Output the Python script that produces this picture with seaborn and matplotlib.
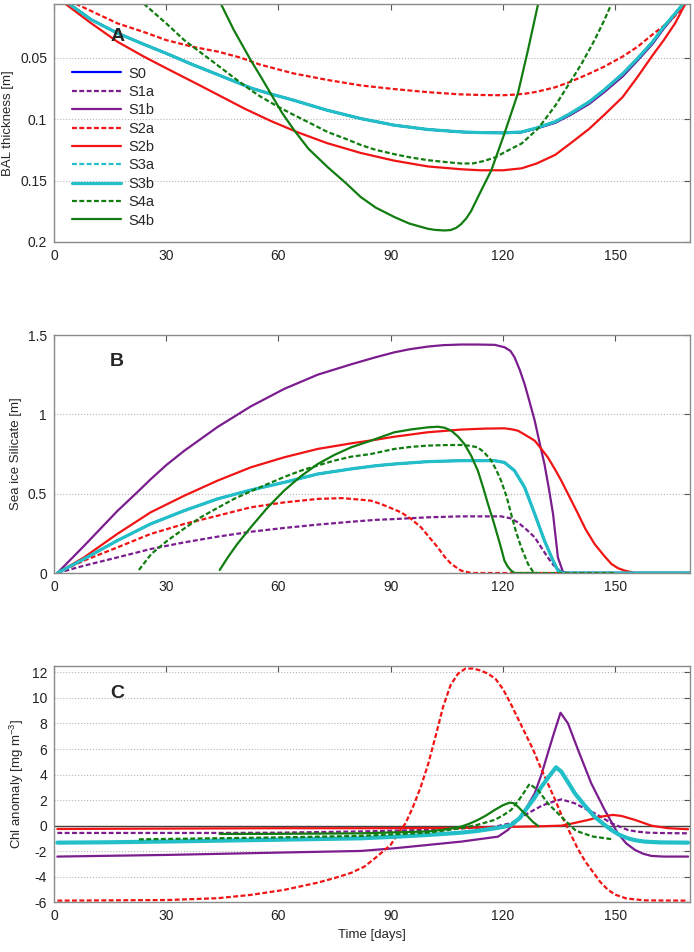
import matplotlib
matplotlib.use("Agg")
import matplotlib.pyplot as plt
import seaborn as sns

# ---- panel A: BAL thickness [m] ----
a_s0_day = [4, 10, 17, 24, 30, 37, 44, 53, 58, 64, 73, 82, 91, 100, 109, 114, 120, 125, 129, 134, 138, 143, 147, 152, 156, 160, 163, 166, 168.2]
a_s0_val = [0.006, 0.019, 0.030, 0.039, 0.0464, 0.0555, 0.064, 0.075, 0.0795, 0.0845, 0.0927, 0.0995, 0.1049, 0.1084, 0.1104, 0.1109,
            0.1112, 0.1106, 0.1075, 0.1028, 0.0965, 0.0875, 0.078, 0.065, 0.052, 0.0385, 0.026, 0.015, 0.006]
a_s3_val = [0.006, 0.019, 0.030, 0.039, 0.0464, 0.0555, 0.064, 0.075, 0.0795, 0.0845, 0.0927, 0.0995, 0.1049, 0.1084, 0.1104, 0.1109,
            0.1112, 0.1104, 0.1071, 0.102, 0.0954, 0.086, 0.0763, 0.063, 0.0505, 0.037, 0.0247, 0.014, 0.006]
a_s2a_day = [5.8, 10, 17, 24, 30, 37, 44, 50, 55, 64, 73, 82, 91, 100, 108, 114, 120, 123, 126, 129, 134, 138, 143, 147, 152, 156, 160, 165, 169]
a_s2a_val = [0.006, 0.012, 0.022, 0.029, 0.0356, 0.041, 0.0451, 0.050, 0.0555, 0.0627, 0.068, 0.0725, 0.0755, 0.078, 0.0797, 0.0803,
             0.0805, 0.080, 0.0792, 0.0777, 0.074, 0.0696, 0.063, 0.0573, 0.049, 0.041, 0.031, 0.0193, 0.0056]
a_s2b_day = [3, 10, 17, 24, 30, 39, 45, 51, 58, 65, 73, 82, 91, 100, 109, 114, 120, 125, 129, 134, 138, 143, 147, 152, 156, 160, 163, 166, 168.6]
a_s2b_val = [0.006, 0.022, 0.037, 0.049, 0.0585, 0.0725, 0.082, 0.0915, 0.1015, 0.1105, 0.1195, 0.1275, 0.1338, 0.1385, 0.1408, 0.1416,
             0.1416, 0.140, 0.1361, 0.129, 0.1198, 0.108, 0.0967, 0.082, 0.0655, 0.048, 0.0356, 0.022, 0.007]
a_s4a_day = [24, 30, 34.8, 40, 43.7, 48, 52.6, 55.3, 60, 64.2, 69, 73.1, 78, 82, 86, 91, 95, 100, 105, 109, 112, 115, 118, 121, 125,
             129.4, 134, 138.3, 141, 144.5, 147, 149]
a_s4a_val = [0.006, 0.022, 0.0356, 0.0475, 0.056, 0.066, 0.0763, 0.0818, 0.090, 0.0967, 0.104, 0.1104, 0.116, 0.121, 0.125, 0.1285,
             0.131, 0.1334, 0.135, 0.1361, 0.136, 0.134, 0.131, 0.126, 0.1198, 0.1076, 0.089, 0.0682, 0.055, 0.0356, 0.020, 0.0062]
a_s4b_day = [44.6, 48, 52.6, 55.3, 58, 61, 64.2, 68, 73.1, 78, 82, 86, 91, 95, 99.9, 102, 104.4, 106, 107.5, 108.8, 110.2, 111.5,
             114.2, 116.9, 120.4, 124, 126.7, 129.4]
a_s4b_val = [0.006, 0.027, 0.052, 0.0655, 0.0795, 0.095, 0.109, 0.124, 0.1389, 0.152, 0.1634, 0.172, 0.1797, 0.185, 0.1892, 0.1902,
             0.1906, 0.1903, 0.1885, 0.1855, 0.1808, 0.1748, 0.158, 0.1416, 0.1117, 0.079, 0.0437, 0.0062]

# ---- panel B: sea ice silicate ----
b_s1a_day = [0.9, 8, 16.9, 25.8, 34.8, 43.7, 52.6, 61.5, 70.5, 79.4, 86, 91, 99.9, 108.8, 119.5, 122, 124, 126, 128.5, 130, 132, 133.5,
             134.7, 136, 170]
b_s1a_val = [0, 0.046, 0.098, 0.151, 0.193, 0.229, 0.26, 0.284, 0.305, 0.323, 0.335, 0.34, 0.351, 0.357, 0.357, 0.345, 0.319, 0.28,
             0.225, 0.17, 0.098, 0.05, 0.025, 0, 0]
b_s1b_day = [0.9, 8, 16.9, 22.3, 25.8, 30, 34.8, 43.7, 52.6, 61.5, 70.5, 79.4, 86, 91, 95, 99.9, 104, 108.8, 113, 117.8, 120.4, 122,
             123.1, 124.5, 125.8, 127, 128.5, 130, 131.1, 132.3, 133.4, 134.7, 136, 137, 170]
b_s1b_val = [0, 0.17, 0.39, 0.51, 0.59, 0.68, 0.77, 0.92, 1.05, 1.16, 1.25, 1.315, 1.36, 1.391, 1.41, 1.427, 1.436, 1.44, 1.44,
             1.438, 1.423, 1.40, 1.36, 1.28, 1.19, 1.09, 0.96, 0.80, 0.687, 0.53, 0.372, 0.098, 0.01, 0, 0]
b_s2a_day = [0.9, 8, 16.9, 25.8, 34.8, 43.7, 52.6, 61.5, 70.5, 77, 82, 84.7, 87.4, 90, 92.8, 95.5, 98.1, 100.5, 102.6, 104.5, 106.2,
             108.8, 111.5, 170]
b_s2a_val = [0, 0.078, 0.161, 0.246, 0.309, 0.361, 0.414, 0.445, 0.467, 0.472, 0.462, 0.456, 0.435, 0.41, 0.382, 0.34, 0.288, 0.22,
             0.161, 0.1, 0.057, 0.015, 0, 0]
b_s2b_day = [0.9, 8, 16.9, 25.8, 34.8, 43.7, 52.6, 61.5, 70.5, 79.4, 86, 91, 99.9, 108.8, 115, 120.4, 122.5, 124, 126, 128.5, 130,
             132, 134, 135.6, 138, 140.1, 142, 144.5, 147, 149, 150.8, 152.6, 155.3, 170]
b_s2b_val = [0, 0.098, 0.246, 0.382, 0.487, 0.582, 0.666, 0.729, 0.782, 0.817, 0.84, 0.859, 0.887, 0.904, 0.91, 0.912, 0.905, 0.897,
             0.87, 0.834, 0.79, 0.729, 0.65, 0.582, 0.47, 0.372, 0.28, 0.183, 0.11, 0.057, 0.03, 0.015, 0, 0]
b_s3_day = [0.9, 8, 16.9, 25.8, 34.8, 43.7, 52.6, 61.5, 70.5, 79.4, 86, 91, 99.9, 108.8, 117.8, 120.4, 123.1, 125.8, 128.5, 131.1,
            133.4, 134.7, 136, 170]
b_s3_val = [0, 0.088, 0.204, 0.309, 0.393, 0.467, 0.523, 0.571, 0.624, 0.656, 0.676, 0.687, 0.702, 0.708, 0.708, 0.697, 0.645, 0.54,
            0.372, 0.204, 0.078, 0.015, 0, 0]
b_s4a_day = [22.7, 26, 30.3, 34.8, 39.2, 43.7, 48.1, 52.6, 57.1, 61.5, 66, 70.5, 74.9, 79.4, 84.7, 91, 95.5, 99.9, 104, 108.8, 111,
             113.3, 115, 116.9, 118.2, 119.5, 121, 122.2, 123.5, 124.9, 126.7, 128, 129, 150]
b_s4a_val = [0.019, 0.12, 0.204, 0.28, 0.351, 0.41, 0.467, 0.515, 0.561, 0.605, 0.645, 0.678, 0.708, 0.733, 0.75, 0.782, 0.795, 0.803,
             0.806, 0.807, 0.802, 0.792, 0.76, 0.708, 0.65, 0.582, 0.48, 0.372, 0.26, 0.161, 0.057, 0.01, 0, 0]
b_s4b_day = [44.3, 46.5, 49, 52.6, 57, 61.5, 66, 70.5, 75, 79.4, 84.7, 91, 95.5, 99.9, 102.6, 104.5, 106.2, 108, 109.7, 111.5, 113.3,
             114.7, 116, 117.4, 118.7, 119.6, 120.4, 121.3, 122.2, 123.1, 129]
b_s4b_val = [0.019, 0.1, 0.183, 0.288, 0.41, 0.519, 0.61, 0.687, 0.745, 0.792, 0.834, 0.887, 0.905, 0.918, 0.922, 0.915, 0.897, 0.86,
             0.813, 0.74, 0.645, 0.54, 0.435, 0.33, 0.225, 0.15, 0.078, 0.04, 0.015, 0, 0]

# ---- panel C: Chl anomaly ----
c_s1a_day = [0.9, 20, 44, 60, 82, 99.9, 108.8, 114, 117.8, 122.2, 126.7, 130, 132, 135.6, 139.2, 141.8, 144.5, 147, 149, 151, 153.4,
             156, 158.8, 163, 169.5]
c_s1a_val = [-0.57, -0.57, -0.57, -0.55, -0.45, -0.33, -0.22, -0.15, -0.08, 0.19, 0.97, 1.5, 1.75, 2.06, 1.75, 1.35, 0.97, 0.55, 0.19,
             -0.05, -0.34, -0.47, -0.55, -0.58, -0.6]
c_s1b_day = [0.9, 30.3, 59.8, 82, 91, 99.9, 108.8, 118.7, 121.3, 123, 124.9, 126.7, 128.5, 130.3, 132, 133.7, 135.4, 137.4, 140.1,
             143.6, 147.2, 150.7, 153, 155.3, 157.5, 159.7, 163, 169.5]
c_s1b_val = [-2.42, -2.29, -2.11, -1.98, -1.77, -1.51, -1.25, -0.86, -0.34, 0.15, 0.7, 1.6, 2.54, 4.0, 5.67, 7.3, 8.84, 8.0, 5.92,
             3.32, 1.23, -0.6, -1.4, -1.9, -2.2, -2.37, -2.42, -2.42]
c_s2a_day = [0.9, 30.3, 43.7, 52.6, 61.5, 70.5, 75, 79.4, 83, 86, 88, 90, 92, 94, 96, 98, 100, 102, 104, 106, 108, 110, 112, 114,
             116, 118, 120, 122, 124, 126, 128, 130, 132, 134, 136, 138, 140, 142, 144, 146, 148, 150, 153, 158, 169.5]
c_s2a_val = [-5.87, -5.82, -5.68, -5.42, -5.03, -4.46, -4.1, -3.7, -3.2, -2.5, -2.0, -1.5, -0.6, 0.2, 1.5, 3.0, 4.8, 7.0, 9.3, 11.0,
             11.9, 12.3, 12.3, 12.15, 11.9, 11.5, 10.7, 9.6, 8.4, 7.2, 6.0, 4.6, 3.3, 2.0, 0.6, -0.6, -1.8, -2.8, -3.6, -4.4, -5.0,
             -5.4, -5.7, -5.85, -5.87]
c_s2b_day = [0.9, 30, 60, 82, 108.8, 120.4, 128.5, 135.6, 139, 142.8, 146, 149.4, 151.7, 155.3, 159.7, 164.2, 169.5]
c_s2b_val = [-0.26, -0.23, -0.2, -0.2, -0.18, -0.1, -0.06, 0.0, 0.2, 0.45, 0.7, 0.84, 0.76, 0.45, 0.0, -0.2, -0.28]
c_s3_day = [0.9, 15, 30, 45, 60, 70, 82, 91, 99.9, 108.8, 113, 117.8, 120, 122.2, 124.5, 126.7, 128.5, 130.3, 132.3, 134.2, 135.6,
            137.4, 139.2, 141.8, 144.5, 147, 149, 151, 153.4, 155.5, 157.9, 162, 169.5]
c_s3_val = [-1.33, -1.3, -1.24, -1.17, -1.1, -1.05, -0.99, -0.87, -0.73, -0.55, -0.42, -0.21, -0.1, 0.05, 0.6, 1.49, 2.2, 3.05, 3.85,
            4.57, 4.23, 3.4, 2.54, 1.6, 0.7, 0.1, -0.34, -0.7, -0.99, -1.15, -1.25, -1.31, -1.33]
c_s4a_day = [22.7, 40, 60, 82, 99.9, 108.8, 113, 117.8, 120, 122.2, 124.9, 127.1, 129.4, 132, 135.6, 139.5, 144, 149.4]
c_s4a_val = [-1.07, -1.0, -0.92, -0.8, -0.55, -0.2, 0.05, 0.45, 0.8, 1.23, 2.27, 3.26, 2.79, 1.75, 0.7, -0.4, -0.85, -1.07]
c_s4b_day = [44.3, 60, 82, 99.9, 104, 108.8, 111, 113.3, 115.5, 117.8, 120, 121.8, 123, 124, 125.3, 126.7, 128, 129.4]
c_s4b_val = [-0.65, -0.64, -0.6, -0.45, -0.32, -0.08, 0.15, 0.45, 0.8, 1.23, 1.6, 1.8, 1.75, 1.49, 1.1, 0.7, 0.3, -0.02]

names = ["S0", "S1a", "S1b", "S2a", "S2b", "S3a", "S3b", "S4a", "S4b"]
colors = ["#0000ff", "#7b1d8e", "#7b1d8e", "#f01414", "#f01414", "#22bfc8", "#22bfc8", "#117d11", "#117d11"]
dashed = [False, True, False, True, False, True, False, True, False]

sns.set_theme(style="white")
plt.rcParams["font.family"] = ["Liberation Sans", "DejaVu Sans"]
plt.rcParams["axes.unicode_minus"] = False
plt.rcParams["mathtext.default"] = "regular"

fig = plt.figure(figsize=(6.94, 9.52), dpi=100)
ax_a = fig.add_axes([0.0778, 0.7458, 0.9164, 0.25])
ax_b = fig.add_axes([0.0778, 0.3981, 0.9164, 0.25])
ax_c = fig.add_axes([0.0778, 0.0522, 0.9164, 0.2485])

curves_a = [(a_s0_day, a_s0_val), (a_s0_day, a_s3_val), (a_s0_day, a_s0_val), (a_s2a_day, a_s2a_val), (a_s2b_day, a_s2b_val),
            (a_s0_day, a_s3_val), (a_s0_day, a_s3_val), (a_s4a_day, a_s4a_val), (a_s4b_day, a_s4b_val)]
curves_b = [(b_s3_day, b_s3_val), (b_s1a_day, b_s1a_val), (b_s1b_day, b_s1b_val), (b_s2a_day, b_s2a_val), (b_s2b_day, b_s2b_val),
            (b_s3_day, b_s3_val), (b_s3_day, b_s3_val), (b_s4a_day, b_s4a_val), (b_s4b_day, b_s4b_val)]
curves_c = [(c_s3_day, c_s3_val), (c_s1a_day, c_s1a_val), (c_s1b_day, c_s1b_val), (c_s2a_day, c_s2a_val), (c_s2b_day, c_s2b_val),
            (c_s3_day, c_s3_val), (c_s3_day, c_s3_val), (c_s4a_day, c_s4a_val), (c_s4b_day, c_s4b_val)]


def draw(ax, curves, cyan_lw):
    for i, (d, v) in enumerate(curves):
        lw = cyan_lw if names[i] == "S3b" else 1.6
        kw = {"dashes": (2.2, 1.1)} if dashed[i] else {}
        sns.lineplot(x=d, y=v, ax=ax, color=colors[i], lw=lw, sort=False, label=names[i], legend=False, **kw)


def style(ax, yticks, ylabels):
    ax.set_xlim(0, 170)
    ax.set_xticks([0, 30, 60, 90, 120, 150])
    ax.set_yticks(yticks)
    ax.set_yticklabels(ylabels)
    ax.yaxis.grid(True, linestyle=":", color="#b5b5b5", lw=0.8)
    ax.xaxis.grid(False)
    ax.set_axisbelow(True)
    for s in ax.spines.values():
        s.set_color("#8a8a8a")
        s.set_linewidth(1.0)
    ax.tick_params(direction="in", length=4, width=0.8, color="#555555", top=True, right=True,
                   labelsize=10, labelcolor="#222222", pad=5)
    ax.set_xlabel("")


draw(ax_a, curves_a, 2.3)
style(ax_a, [0.05, 0.1, 0.15, 0.2], ["0.05", "0.1", "0.15", "0.2"])
ax_a.set_ylim(0.2, 0.0062)
ax_a.set_ylabel("BAL thickness [m]", fontsize=9.5)
ax_a.text(16.9, 0.033, "A", fontsize=14, fontweight="bold", ha="center", va="center")
ax_a.legend(loc="upper left", bbox_to_anchor=(0.013, 0.78), frameon=False, fontsize=10.5, handlelength=3.3,
            labelspacing=0.3, handletextpad=0.5, borderaxespad=0.3)

draw(ax_b, curves_b, 2.3)
style(ax_b, [0, 0.5, 1, 1.5], ["0", "0.5", "1", "1.5"])
ax_b.set_ylim(0, 1.5)
ax_b.set_ylabel("Sea ice Silicate [m]", fontsize=9.5)
ax_b.text(16.9, 1.33, "B", fontsize=14, fontweight="bold", ha="center", va="center")

ax_c.axhline(0, color="#444444", lw=1.0, zorder=1.5)
draw(ax_c, curves_c, 3.0)
style(ax_c, list(range(-6, 13, 2)), [str(t) for t in range(-6, 13, 2)])
ax_c.set_ylim(-6, 12.52)
ax_c.set_ylabel("Chl anomaly [mg m$^{-3}$]", fontsize=9.5)
ax_c.set_xlabel("Time [days]", fontsize=9.5)
ax_c.text(16.9, 10.36, "C", fontsize=14, fontweight="bold", ha="center", va="center")

fig.savefig("out.png", dpi=100)
